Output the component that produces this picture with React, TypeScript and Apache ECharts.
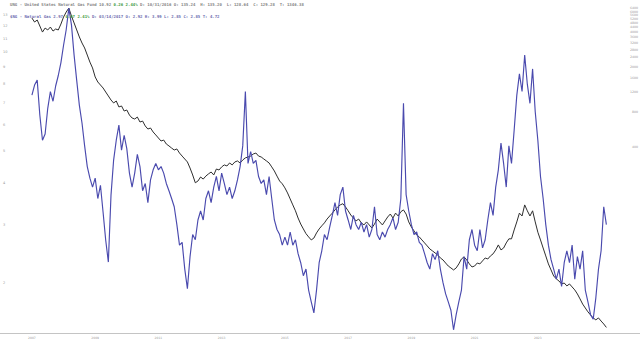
import React, { useEffect, useRef } from "react";
import * as echarts from "echarts";

// Monthly samples, first one at the "2007" tick.
const START_YEAR = 2007;
const STEP = 1 / 12;

// $NG - Natural Gas (left, log scale)
const ngValues = [
  7.41, 7.95, 8.23, 6.44, 5.41, 5.65, 6.76, 7.6, 7.1, 7.9, 8.5, 9.3,
  10.5, 11.7, 13.6, 12.1, 9.8, 8.2, 6.9, 6.1, 5.2, 4.5, 4.15, 3.9,
  4.15, 3.6, 3.95, 3.27, 2.69, 2.31, 3.68, 4.71, 5.41, 6.01, 5.05, 5.6,
  5.1, 4.3, 3.9, 4.3, 4.9, 4.5, 3.8, 4.0, 3.5, 4.1, 4.4, 4.6,
  4.4, 4.5, 4.3, 4.0, 3.8, 3.6, 3.4, 3.0, 2.6, 2.65, 2.2, 1.92,
  2.4, 2.8, 2.7, 3.1, 3.3, 3.1, 3.6, 3.8, 3.5, 3.9, 4.2, 3.8,
  4.3, 4.0, 3.7, 3.9, 3.6, 3.8, 4.1, 4.5, 5.2, 7.6, 4.6, 5.0,
  4.6, 4.7, 4.2, 4.0, 4.1, 3.7, 4.2, 3.6, 3.1, 2.9, 2.8, 2.6,
  2.75, 2.6, 2.85, 2.6, 2.7, 2.45, 2.3, 2.1, 2.2, 1.9, 1.75, 1.62,
  1.9, 2.3, 2.5, 2.8, 2.7, 2.95, 3.2, 3.5, 3.2, 3.7, 3.9, 3.3,
  3.1, 2.9, 3.2, 3.0, 2.9, 3.05, 2.85, 3.0, 2.75, 2.9, 3.4, 2.8,
  2.7, 2.85, 2.75, 2.9, 3.0, 3.15, 2.9, 3.05, 3.6, 7.0, 3.7, 3.3,
  3.0, 2.8, 2.85, 2.65, 2.6, 2.45, 2.3, 2.2, 2.45, 2.35, 2.5, 2.2,
  2.0, 1.85, 1.75, 1.65, 1.44, 1.6, 1.75, 1.9, 2.4, 2.2, 2.7, 2.9,
  2.6, 2.5, 2.9, 2.55, 2.7, 3.1, 3.5, 3.2, 3.9, 4.4, 5.3, 4.6,
  3.9, 5.2, 4.6, 5.8, 7.4, 8.6, 7.6, 9.8, 8.0, 7.0, 8.9, 6.6,
  5.4, 4.2, 3.6, 3.0, 2.6, 2.35, 2.2, 2.05, 2.2, 1.95, 2.3, 2.5,
  2.3, 2.6, 2.05, 2.4, 2.2, 2.5, 1.9, 1.75, 1.6, 1.55, 1.8, 2.2,
  2.5, 3.4, 3.0,
];

// UNG - United States Natural Gas Fund (right, log scale, split adjusted)
const ungValues = [
  5250, 4850, 5050, 4480, 3970, 4300, 4140, 4390, 4050, 4220, 4140, 4660,
  5360, 5920, 6410, 5470, 4760, 4140, 3600, 3190, 2890, 2510, 2180, 1940,
  1620, 1465, 1380, 1300, 1200, 1108, 1023, 964, 1003, 890, 908, 821,
  838, 758, 714, 700, 728, 659, 672, 609, 573, 585, 540, 509,
  479, 451, 460, 425, 409, 392, 377, 385, 355, 334, 315, 297,
  263, 229, 196, 203, 220, 211, 224, 234, 243, 229, 258, 253,
  269, 280, 274, 291, 280, 297, 303, 291, 309, 322, 328, 334,
  348, 355, 334, 328, 315, 303, 291, 269, 248, 224, 203, 192,
  177, 160, 142, 126, 112, 97, 86, 78, 71, 66.5, 62.6, 65,
  72, 78, 83, 88, 95, 101, 107, 114, 121, 126, 129, 121,
  112, 103, 97, 91.5, 95, 88, 84.5, 89.7, 84.5, 79.5, 86, 95,
  89.7, 84.5, 91.5, 99, 105, 97, 107, 101, 110, 114, 105, 89.7,
  81, 75, 69, 66.5, 62.6, 59, 55.6, 52.3, 50.3, 48.3, 46.4, 43.7,
  42, 39.5, 37.2, 35.8, 34.4, 35.8, 38.8, 42.8, 44.6, 42, 38.8, 36.5,
  37.2, 39.5, 38.8, 41.2, 43.7, 42.8, 45.5, 47.4, 51.3, 56.7, 51.3, 53.3,
  59, 64, 64, 76.4, 89.7, 107, 101, 126, 112, 101, 112, 89.7,
  73, 62.6, 53.3, 45.5, 38.8, 34.4, 30.5, 28.8, 27.6, 26, 26.5, 25,
  26, 24.5, 23.1, 21.3, 19.3, 17.4, 16.1, 14.9, 14.0, 13.2, 12.7, 13.2,
  12.4, 11.7, 10.92,
];

const xTickYears = [2007, 2009, 2011, 2013, 2015, 2017, 2019, 2021, 2023];
const ngTicks = [2, 3, 4, 5, 6, 7, 8, 9, 10, 11, 12, 13];
const ungTicks = [400, 800, 1200, 1600, 2000, 2400, 2800, 3200, 3600, 4000, 4400, 4800, 5200, 5600, 6000, 6400];

const ungHeadA = "UNG - United States Natural Gas Fund 10.92 ";
const ungHeadChg = "0.26 2.44%";
const ungHeadB = " D: 10/31/2016 O: 135.24  H: 135.20  L: 128.64  C: 129.28  T: 1346.38";
const ngHeadA = "$NG - Natural Gas 2.97 ";
const ngHeadChg = "0.07 2.41%";
const ngHeadB = " D: 03/14/2017 O: 2.92 H: 3.99 L: 2.85 C: 2.85 T: 4.72";

const MONO = "DejaVu Sans Mono";
const SANS = "DejaVu Sans";

export default function App() {
  const ref = useRef<HTMLDivElement>(null);

  useEffect(() => {
    document.body.style.margin = "0";
    const chart = echarts.init(ref.current as HTMLDivElement, null, { renderer: "svg" });
    const toPairs = (vals: number[]) => vals.map((v, i) => [START_YEAR + i * STEP, v]);

    chart.setOption({
      animation: false,
      backgroundColor: "#ffffff",
      grid: { left: 0, right: 0, top: 0, bottom: 11 },
      title: [
        {
          left: 10,
          top: 2,
          padding: 0,
          text: `{a|${ungHeadA}}{g|${ungHeadChg}}{a|${ungHeadB}}`,
          textStyle: {
            rich: {
              a: { fontFamily: MONO, fontSize: 4, color: "#858585", lineHeight: 5 },
              g: { fontFamily: MONO, fontSize: 4, color: "#3f9a3f", lineHeight: 5 },
            },
          },
        },
        {
          left: 10,
          top: 14,
          padding: 0,
          text: `{a|${ngHeadA}}{g|${ngHeadChg}}{a|${ngHeadB}}`,
          textStyle: {
            rich: {
              a: { fontFamily: MONO, fontSize: 4, color: "#6d6daf", lineHeight: 5 },
              g: { fontFamily: MONO, fontSize: 4, color: "#3f9a3f", lineHeight: 5 },
            },
          },
        },
      ],
      xAxis: {
        type: "value",
        min: 2005.99,
        max: 2026.23,
        axisLine: { show: true, lineStyle: { color: "#c4c4c4", width: 1.2 } },
        axisTick: { show: false },
        axisLabel: { show: false },
        splitLine: { show: false },
      },
      yAxis: [
        {
          type: "log",
          logBase: 10,
          min: 1.408,
          max: 14.4,
          position: "left",
          axisLine: { show: false },
          axisTick: { show: false },
          axisLabel: { show: false },
          splitLine: { show: false },
        },
        {
          type: "log",
          logBase: 10,
          min: 9.77,
          max: 7530,
          position: "right",
          axisLine: { show: false },
          axisTick: { show: false },
          axisLabel: { show: false },
          splitLine: { show: false },
        },
      ],
      series: [
        {
          name: "UNG",
          type: "line",
          yAxisIndex: 1,
          data: toPairs(ungValues),
          showSymbol: false,
          symbol: "none",
          lineStyle: { color: "#2e2e2e", width: 1 },
          z: 2,
        },
        {
          name: "$NG",
          type: "line",
          yAxisIndex: 0,
          data: toPairs(ngValues),
          showSymbol: false,
          symbol: "none",
          lineStyle: { color: "#4a4aae", width: 1.15 },
          z: 3,
        },
      ],
    });

    const px = (finder: any, v: number) => chart.convertToPixel(finder, v) as unknown as number;
    const labelStyle = (text: string, align: string, fontSize: number) => ({
      text,
      fill: "#9a9a9a",
      fontSize,
      fontFamily: SANS,
      textAlign: align,
      textVerticalAlign: "middle",
      align,
      verticalAlign: "middle",
    });

    const graphics: any[] = [];
    ngTicks.forEach((v) => {
      graphics.push({ type: "text", silent: true, x: 3, y: px({ yAxisIndex: 0 }, v), style: labelStyle(String(v), "left", 3.5) });
    });
    ungTicks.forEach((v) => {
      graphics.push({ type: "text", silent: true, x: 638, y: px({ yAxisIndex: 1 }, v), style: labelStyle(String(v), "right", 3.2) });
    });
    xTickYears.forEach((v) => {
      graphics.push({ type: "text", silent: true, x: px({ xAxisIndex: 0 }, v), y: 338, style: labelStyle(String(v), "center", 3) });
    });
    chart.setOption({ graphic: graphics });

    return () => chart.dispose();
  }, []);

  return <div ref={ref} style={{ width: 640, height: 344 }} />;
}
